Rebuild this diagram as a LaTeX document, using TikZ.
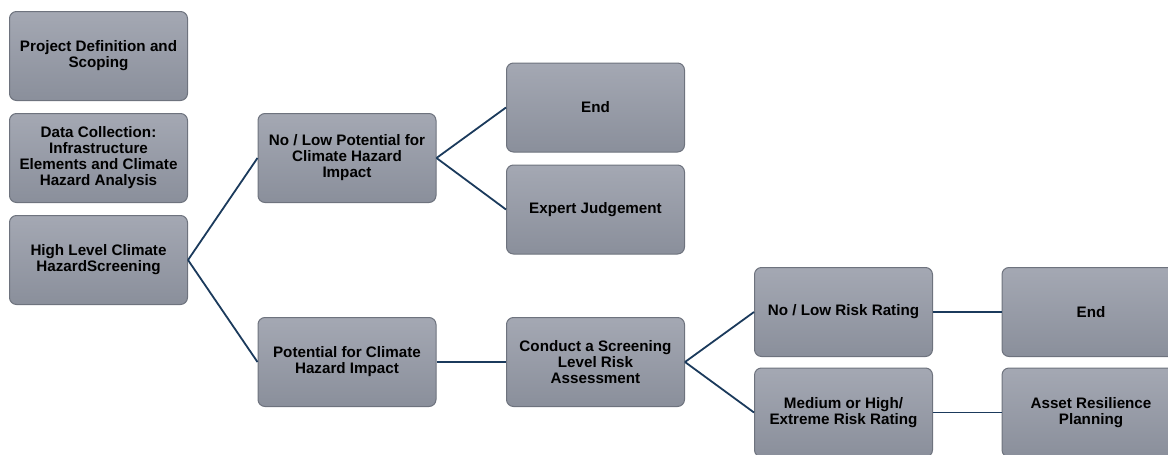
\documentclass[tikz,border=0pt]{standalone}
\usepackage{fontspec}
\setmainfont{Liberation Sans}
\definecolor{boxtop}{HTML}{A4A8B3}
\definecolor{boxbot}{HTML}{8A8F9B}
\definecolor{boxedge}{HTML}{6E737E}
\definecolor{link}{HTML}{1B3A5C}
\begin{document}
\begin{tikzpicture}[x=1pt,y=-1pt,
  box/.style={rectangle, rounded corners=7pt, draw=boxedge, line width=1pt,
    top color=boxtop, bottom color=boxbot, minimum width=178pt, minimum height=89pt,
    align=center, font=\fontsize{15.2}{16}\selectfont\bfseries, text=black, inner sep=0pt},
  conn/.style={draw=link, line width=1.8pt}]
\useasboundingbox (0,0) rectangle (1168,455);
\clip (0,0) rectangle (1168,455);
\node[box] (p1) at (98.5,56) {Project Definition and\\Scoping};
\node[box] (p2) at (98.5,158) {Data Collection:\\Infrastructure\\Elements and Climate\\Hazard Analysis};
\node[box] (p3) at (98.5,260) {High Level Climate\\HazardScreening};
\node[box] (nl) at (347,158) {No / Low Potential for\\Climate Hazard\\Impact};
\node[box] (pc) at (347,362) {Potential for Climate\\Hazard Impact};
\node[box] (e1) at (595.5,107.5) {End};
\node[box] (ej) at (595.5,209.5) {Expert Judgement};
\node[box] (cs) at (595.5,362) {Conduct a Screening\\Level Risk\\Assessment};
\node[box] (nr) at (843.5,312) {No / Low Risk Rating};
\node[box] (mr) at (843.5,412.5) {Medium or High/\\Extreme Risk Rating};
\node[box] (e2) at (1091,312) {End};
\node[box] (ar) at (1091,412.5) {Asset Resilience\\Planning};
\draw[conn] (p3.east) -- (nl.west);
\draw[conn] (p3.east) -- (pc.west);
\draw[conn] (nl.east) -- (e1.west);
\draw[conn] (nl.east) -- (ej.west);
\draw[conn] (pc.east) -- (cs.west);
\draw[conn] (cs.east) -- (nr.west);
\draw[conn] (cs.east) -- (mr.west);
\draw[conn] (nr.east) -- (e2.west);
\draw[conn] (mr.east) -- (ar.west);
\end{tikzpicture}
\end{document}
